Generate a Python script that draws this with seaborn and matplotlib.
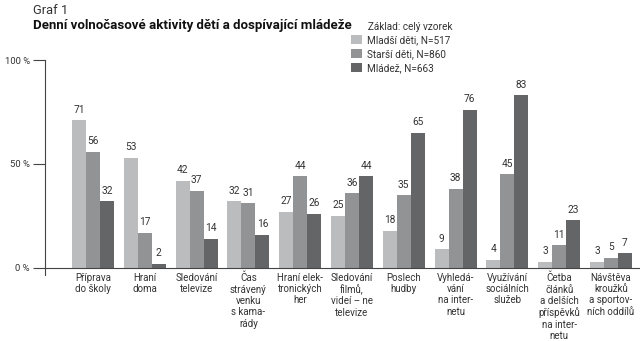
import matplotlib
matplotlib.use("Agg")
import matplotlib.pyplot as plt
import seaborn as sns
import pandas as pd
from matplotlib.patches import Patch

categories = [
    "Příprava\ndo školy", "Hraní\ndoma", "Sledování\ntelevize",
    "Čas\nstrávený\nvenku\ns kama-\nrády", "Hraní elek-\ntronických\nher",
    "Sledování\nfilmů,\nvideí – ne\ntelevize", "Poslech\nhudby",
    "Vyhledá-\nvání\nna inter-\nnetu", "Využívání\nsociálních\nslužeb",
    "Četba\nčlánků\na delších\npříspěvků\nna inter-\nnetu",
    "Návštěva\nkroužků\na sportov-\nních oddílů",
]
series = ["Mladší děti, N=517", "Starší děti, N=860", "Mládež, N=663"]
mladsi = [71, 53, 42, 32, 27, 25, 18, 9, 4, 3, 3]
starsi = [56, 17, 37, 31, 44, 36, 35, 38, 45, 11, 5]
mladez = [32, 2, 14, 16, 26, 44, 65, 76, 83, 23, 7]
yticks = [0, 50, 100]
ytick_labels = ["0 %", "50 %", "100 %"]

colors = ["#bbbcbe", "#929395", "#646567"]
text_color = "#333333"

df = pd.DataFrame({
    "kategorie": categories * 3,
    "skupina": [series[0]] * 11 + [series[1]] * 11 + [series[2]] * 11,
    "hodnota": mladsi + starsi + mladez,
})

sns.set_theme(style="white")
plt.rcParams["font.family"] = ["Roboto", "DejaVu Sans"]

fig = plt.figure(figsize=(6.4, 3.41), dpi=100)
ax = fig.add_axes([0.0703, 0.1935, 0.9297, 0.6305])

sns.barplot(data=df, x="kategorie", y="hodnota", hue="skupina",
            palette=colors, width=0.81, linewidth=0, saturation=1,
            ax=ax, legend=False)

for cont in ax.containers:
    ax.bar_label(cont, padding=4, fontsize=7.3, color=text_color)

ax.set_xlim(-0.927, 10.56)
ax.set_ylim(-3.4, 100)
ax.set_xlabel("")
ax.set_ylabel("")
ax.set_yticks(yticks)
ax.set_yticklabels(ytick_labels, fontsize=6.8, color=text_color)
ax.tick_params(axis="y", length=9, width=0.8, color="#444444", pad=2, left=True)
ax.tick_params(axis="x", length=0, pad=-1.5, labelsize=7.0, labelcolor=text_color)
for lbl in ax.get_xticklabels():
    lbl.set_linespacing(1.16)
    lbl.set_verticalalignment("top")

for s in ["top", "right", "bottom"]:
    ax.spines[s].set_visible(False)
ax.spines["left"].set_color("#444444")
ax.spines["left"].set_linewidth(0.8)
ax.axhline(0, color="#444444", linewidth=0.8, zorder=5)

fig.text(0.052, 0.968, "Graf 1", fontsize=9.3, color=text_color, va="center", ha="left")
fig.text(0.052, 0.924, "Denní volnočasové aktivity dětí a dospívající mládeže",
         fontsize=9.5, fontweight="bold", color="#111111", va="center", ha="left")

fig.text(0.575, 0.922, "Základ: celý vzorek", fontsize=7.2, color=text_color,
         va="center", ha="left")
handles = [Patch(facecolor=c, edgecolor="none") for c in colors]
fig.legend(handles, series, loc="upper left", bbox_to_anchor=(0.548, 0.898),
           frameon=False, fontsize=7.2, handlelength=1.1, handleheight=1.1,
           handletextpad=0.5, labelspacing=0.38, borderaxespad=0,
           borderpad=0, labelcolor=text_color)

fig.savefig("out.png", dpi=100)
